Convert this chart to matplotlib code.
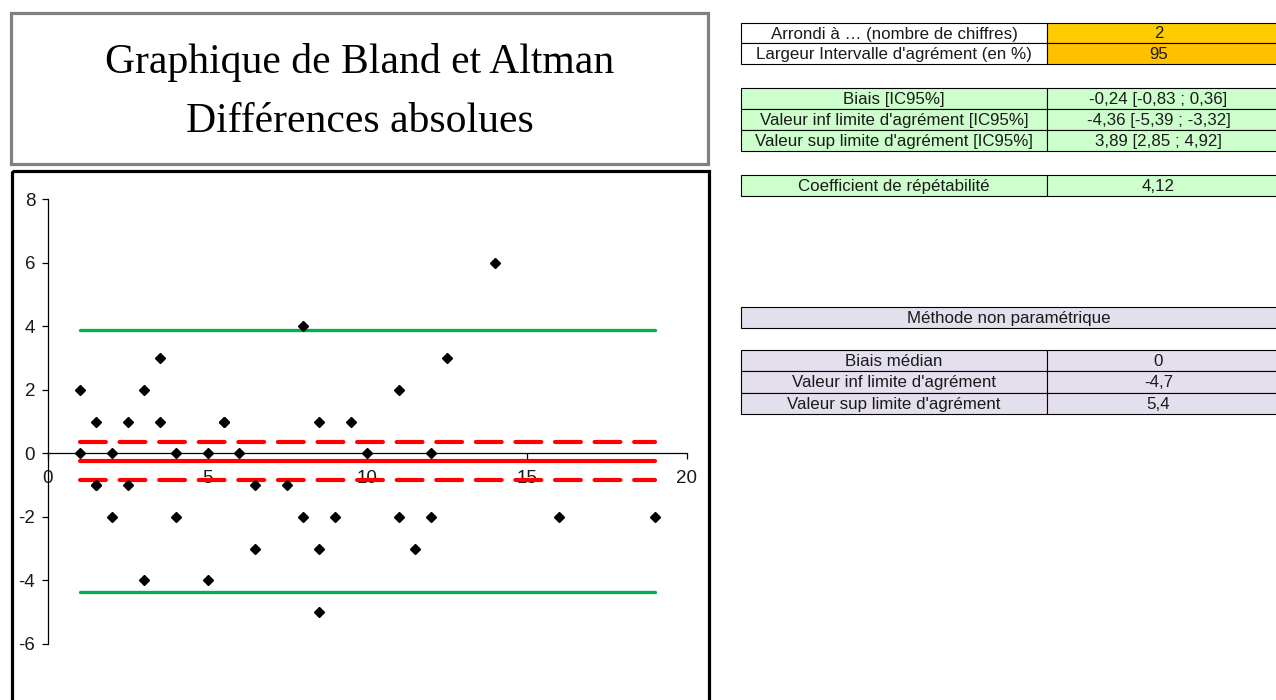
import matplotlib
matplotlib.use("Agg")
import matplotlib.pyplot as plt
from matplotlib.patches import Rectangle

# differences (y) against mean of the two measures (x)
mean_vals = [1, 1, 1.5, 1.5, 1.5, 2, 2, 2.5, 2.5, 3, 3, 3.5, 3.5, 4, 4, 5, 5,
             5.5, 5.5, 6, 6.5, 6.5, 7.5, 8, 8, 8.5, 8.5, 8.5, 9, 9.5, 10, 11,
             11, 11.5, 12, 12, 12.5, 14, 16, 19]
diff_vals = [2, 0, 1, -1, -1, 0, -2, 1, -1, 2, -4, 3, 1, 0, -2, 0, -4,
             1, 1, 0, -1, -3, -1, 4, -2, 1, -3, -5, -2, 1, 0, 2,
             -2, -3, 0, -2, 3, 6, -2, -2]

bias = -0.24
bias_ci = [-0.83, 0.36]
loa_low = -4.36
loa_high = 3.89

title_lines = ["Graphique de Bland et Altman", "Différences absolues"]

param_labels = ["Arrondi à … (nombre de chiffres)", "Largeur Intervalle d'agrément (en %)"]
param_values = ["2", "95"]
stat_labels = ["Biais [IC95%]", "Valeur inf limite d'agrément [IC95%]",
               "Valeur sup limite d'agrément [IC95%]"]
stat_values = ["-0,24 [-0,83 ; 0,36]", "-4,36 [-5,39 ; -3,32]", "3,89 [2,85 ; 4,92]"]
coef_label = "Coefficient de répétabilité"
coef_value = "4,12"
np_title = "Méthode non paramétrique"
np_labels = ["Biais médian", "Valeur inf limite d'agrément", "Valeur sup limite d'agrément"]
np_values = ["0", "-4,7", "5,4"]

W, H = 1276, 700
fig = plt.figure(figsize=(W / 100, H / 100), dpi=100)
fig.patch.set_facecolor("white")

# overlay in pixel coordinates for the boxes and the tables
bg = fig.add_axes([0, 0, 1, 1])
bg.set_xlim(0, W)
bg.set_ylim(H, 0)
bg.axis("off")

bg.add_patch(Rectangle((11, 13), 697, 151, fill=False, ec="#808080", lw=2.3))
bg.text(360, 62, title_lines[0], ha="center", va="center",
        fontsize=30, family="Liberation Serif")
bg.text(360, 122, title_lines[1], ha="center", va="center",
        fontsize=30, family="Liberation Serif")
bg.add_patch(Rectangle((12, 171), 697, 540, fill=False, ec="black", lw=2.3))

x0, x1, x2 = 741, 1047, 1290
tfont = dict(fontsize=12.2, family="Liberation Sans", ha="center", va="center",
             color="#1a1a1a")


def row(y, h, label, value, c_label, c_value):
    bg.add_patch(Rectangle((x0, y), x1 - x0, h, fc=c_label, ec="black", lw=0.8))
    bg.add_patch(Rectangle((x1, y), x2 - x1, h, fc=c_value, ec="black", lw=0.8))
    bg.text((x0 + x1) / 2, y + h / 2 + 1, label, **tfont)
    bg.text((x1 + 1276) / 2 - 3, y + h / 2 + 1, value, **tfont)


row(23, 20, param_labels[0], param_values[0], "white", "#FFCC00")
row(43, 21, param_labels[1], param_values[1], "white", "#FFC000")
for i in range(3):
    row(88 + i * 21, 21, stat_labels[i], stat_values[i], "#CCFFCC", "#CCFFCC")
row(175, 21, coef_label, coef_value, "#CCFFCC", "#CCFFCC")

bg.add_patch(Rectangle((x0, 307), x2 - x0, 21, fc="#E4DFEC", ec="black", lw=0.8))
bg.text((x0 + 1276) / 2, 318, np_title, **tfont)
for i in range(3):
    row(350 + i * 21.3, 21.3, np_labels[i], np_values[i], "#E4DFEC", "#E4DFEC")

# Bland-Altman plot: x 0..20 -> px 47.7..687, y -6..8 -> px 644..199
ax = fig.add_axes([47.7 / W, 1 - 644 / H, (687 - 47.7) / W, (644 - 199) / H])
ax.patch.set_alpha(0)
ax.set_xlim(0, 20)
ax.set_ylim(-6, 8)
ax.spines["top"].set_visible(False)
ax.spines["right"].set_visible(False)
ax.spines["bottom"].set_position(("data", 0))
ax.spines["left"].set_linewidth(0.9)
ax.spines["bottom"].set_linewidth(0.9)
ax.set_xticks([0, 5, 10, 15, 20])
ax.set_yticks([-6, -4, -2, 0, 2, 4, 6, 8])
ax.set_yticklabels([str(v) for v in [-6, -4, -2, 0, 2, 4, 6, 8]])
ax.tick_params(axis="both", direction="out", length=4, width=0.9,
               labelsize=13.5, colors="black")
ax.tick_params(axis="x", pad=8)
ax.tick_params(axis="y", pad=5)
for lab in ax.get_xticklabels() + ax.get_yticklabels():
    lab.set_family("Liberation Sans")
    lab.set_color("#1a1a1a")

xmin, xmax = min(mean_vals), max(mean_vals)
ax.plot([xmin, xmax], [loa_high, loa_high], color="#00B050", lw=2.4, solid_capstyle="round")
ax.plot([xmin, xmax], [loa_low, loa_low], color="#00B050", lw=2.4, solid_capstyle="round")
ax.plot([xmin, xmax], [bias, bias], color="#FF0000", lw=3, solid_capstyle="round")
for v in bias_ci:
    ax.plot([xmin, xmax], [v, v], color="#FF0000", lw=3,
            dashes=(6.2, 3.3), dash_capstyle="round")
ax.plot(mean_vals, diff_vals, "D", color="black", ms=5.5, clip_on=False, zorder=5)

fig.savefig("out.png", dpi=100)
